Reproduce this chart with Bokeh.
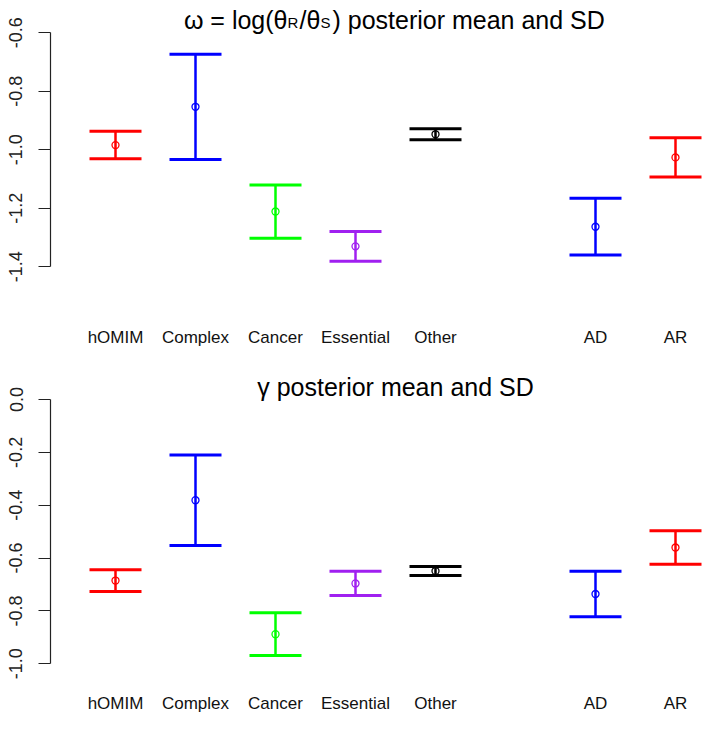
import numpy as np
from bokeh.plotting import figure
from bokeh.models import ColumnDataSource, FixedTicker, PrintfTickFormatter, Range1d
from bokeh.layouts import column
from bokeh.embed import file_html
from bokeh.resources import INLINE
from bokeh.core.properties import value

# ---------------- data ----------------
categories = ["hOMIM", "Complex", "Cancer", "Essential", "Other", "AD", "AR"]
positions = [1, 2, 3, 4, 5, 7, 8]
colors = ["#FF0000", "#0000FF", "#00FF00", "#A020F0", "#000000", "#0000FF", "#FF0000"]

omega_mean = [-0.984, -0.853, -1.211, -1.330, -0.947, -1.263, -1.026]
omega_sd = [0.047, 0.180, 0.091, 0.051, 0.019, 0.097, 0.067]

gamma_mean = [-0.685, -0.381, -0.888, -0.696, -0.649, -0.736, -0.560]
gamma_sd = [0.041, 0.171, 0.081, 0.046, 0.017, 0.086, 0.063]

omega_ticks = [-1.4, -1.2, -1.0, -0.8, -0.6]
gamma_ticks = [-1.0, -0.8, -0.6, -0.4, -0.2, 0.0]

FONT = "Liberation Sans"
W = 720


def make_panel(mean, sd, ticks, y_start, y_end, height, title_pieces, title_base):
    mean = np.asarray(mean)
    sd = np.asarray(sd)
    src = ColumnDataSource(dict(
        x=positions, mean=mean, lower=mean - sd, upper=mean + sd,
        color=colors, cat=categories))

    p = figure(width=W, height=height, output_backend="svg", toolbar_location=None,
               x_range=Range1d(positions[0] - 0.8125, positions[-1] + 0.5625),
               y_range=Range1d(y_start, y_end),
               min_border_left=50, min_border_right=0, min_border_top=0,
               min_border_bottom=55)
    p.outline_line_color = None
    p.grid.visible = False
    p.background_fill_color = "white"
    p.border_fill_color = "white"

    # error bars
    p.segment(x0="x", y0="lower", x1="x", y1="upper", line_color="color",
              line_width=2.5, source=src)
    p.scatter(x="x", y="upper", marker="dash", size=52, line_color="color",
              line_width=3, source=src)
    p.scatter(x="x", y="lower", marker="dash", size=52, line_color="color",
              line_width=3, source=src)
    p.scatter(x="x", y="mean", marker="circle", size=7, fill_color=None,
              line_color="color", line_width=1.3, source=src)

    # y axis (R style)
    ya = p.yaxis[0]
    ya.ticker = FixedTicker(ticks=ticks)
    ya.formatter = PrintfTickFormatter(format="%.1f")
    ya.bounds = (min(ticks), max(ticks))
    ya.major_tick_out = 12
    ya.major_tick_in = 0
    ya.minor_tick_line_color = None
    ya.major_label_orientation = "vertical"
    ya.major_label_text_font = FONT
    ya.major_label_text_font_size = "18px"
    ya.major_label_text_color = "#222222"
    ya.major_label_standoff = 16
    ya.axis_line_color = "#222222"
    ya.major_tick_line_color = "#222222"
    ya.axis_line_width = 1.2
    ya.major_tick_line_width = 1.2

    # category labels
    xa = p.xaxis[0]
    xa.ticker = FixedTicker(ticks=positions)
    xa.major_label_overrides = {pos: cat for pos, cat in zip(positions, categories)}
    xa.axis_line_color = None
    xa.major_tick_line_color = None
    xa.minor_tick_line_color = None
    xa.major_label_text_font = FONT
    xa.major_label_text_font_size = "17px"
    xa.major_label_text_color = "#111111"
    xa.major_label_standoff = 3

    # title
    xc = (positions[0] + positions[-1]) / 2
    for txt, dx, dy, size, align in title_pieces:
        p.text(x=[xc], y=[y_end], text=[txt], x_offset=dx, y_offset=title_base + dy,
               text_font=value(FONT), text_font_size=value(f"{size}px"),
               text_align=align, text_baseline="alphabetic", text_color="black")
    return p


top_title = [
    ("ω = log(θ", -108, 0, 25, "right"),
    ("R", -108, 3, 15, "left"),
    ("/θ", -96, 0, 25, "left"),
    ("S", -75, 3, 15, "left"),
    (") posterior mean and SD", -63, 0, 25, "left"),
]
bottom_title = [("γ posterior mean and SD", 0, 0, 25, "center")]

p1 = make_panel(omega_mean, omega_sd, omega_ticks,
                -0.6 - (318 - 32.3) / 292.5, -0.6 + 32.3 / 292.5, 373,
                top_title, 19)
p2 = make_panel(gamma_mean, gamma_sd, gamma_ticks,
                -(311 - 26) / 264.3, 26 / 264.3, 366,
                bottom_title, 13)

layout = column(p1, p2, spacing=0)
open("out.html", "w").write(file_html(layout, INLINE))
